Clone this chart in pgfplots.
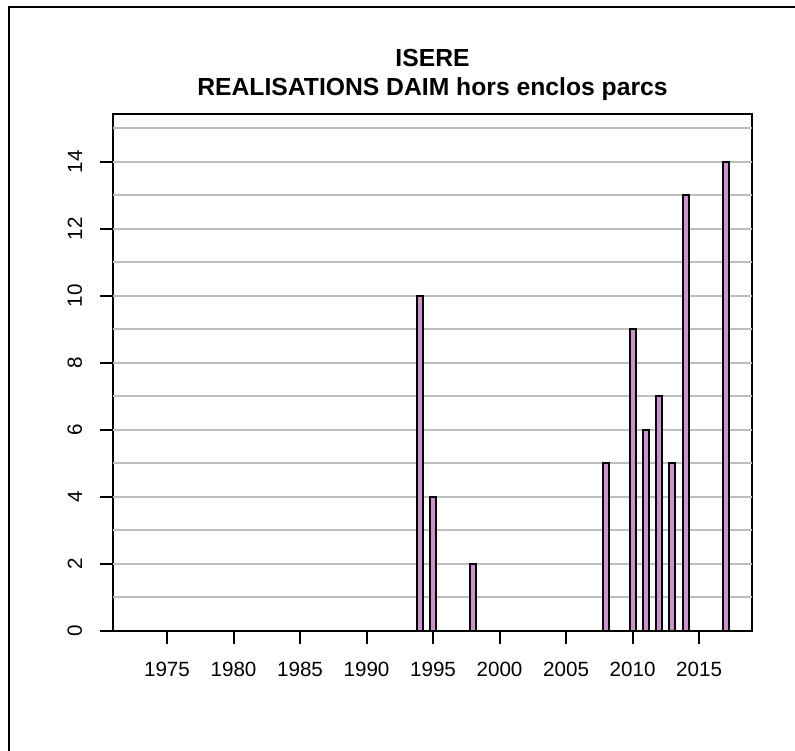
\documentclass[border=0pt]{standalone}
\usepackage{fontspec}
\setmainfont{Liberation Sans}
\usepackage{pgfplots}
\pgfplotsset{compat=1.18}
\definecolor{barfill}{RGB}{205,145,205}
\definecolor{gridgray}{RGB}{190,190,190}
\begin{document}
\begin{tikzpicture}[x=1bp,y=1bp]
\useasboundingbox (-56.5,-60) rectangle (341,315.5);
\clip (-56.5,-60) rectangle (341,315.5);
\draw[line width=1bp] (-52,-120) rectangle (400,312);
\begin{axis}[
  at={(0,0)}, anchor=south west,
  scale only axis, width=319.5bp, height=258.5bp,
  xmin=1970.94, xmax=2018.98, ymin=0, ymax=15.42,
  axis line style={line width=1.3bp},
  ybar, bar width=0.45,
  xtick={1975,1980,...,2015}, ytick={0,2,...,14},
  xtick pos=left, ytick pos=left,
  tick align=outside, major tick length=6.5bp,
  tick style={line width=1bp, black},
  extra y ticks={1,...,15}, extra y tick labels={},
  extra y tick style={grid=major, major tick length=0pt, major grid style={gridgray, line width=1bp}},
  /pgf/number format/assume math mode=true, /pgf/number format/1000 sep={},
  ticklabel style={font=\fontsize{10.3bp}{12bp}\selectfont},
  xticklabel shift=5.5bp, yticklabel shift=5.4bp,
  yticklabel style={rotate=90, anchor=south},
]
\addplot[fill=barfill, draw=black, line width=1bp] coordinates {
(1973,0) (1974,0) (1975,0) (1976,0) (1977,0) (1978,0) (1979,0) (1980,0)
(1981,0) (1982,0) (1983,0) (1984,0) (1985,0) (1986,0) (1987,0) (1988,0)
(1989,0) (1990,0) (1991,0) (1992,0) (1993,0) (1994,10) (1995,4) (1996,0)
(1997,0) (1998,2) (1999,0) (2000,0) (2001,0) (2002,0) (2003,0) (2004,0)
(2005,0) (2006,0) (2007,0) (2008,5) (2009,0) (2010,9) (2011,6) (2012,7)
(2013,5) (2014,13) (2015,0) (2016,0) (2017,14)
};
\end{axis}
\node[anchor=base, font=\fontsize{12.35bp}{14bp}\selectfont\bfseries] at (159.75,282.5) {ISERE};
\node[anchor=base, font=\fontsize{12.35bp}{14bp}\selectfont\bfseries] at (159.75,268) {REALISATIONS DAIM hors enclos parcs};
\end{tikzpicture}
\end{document}
